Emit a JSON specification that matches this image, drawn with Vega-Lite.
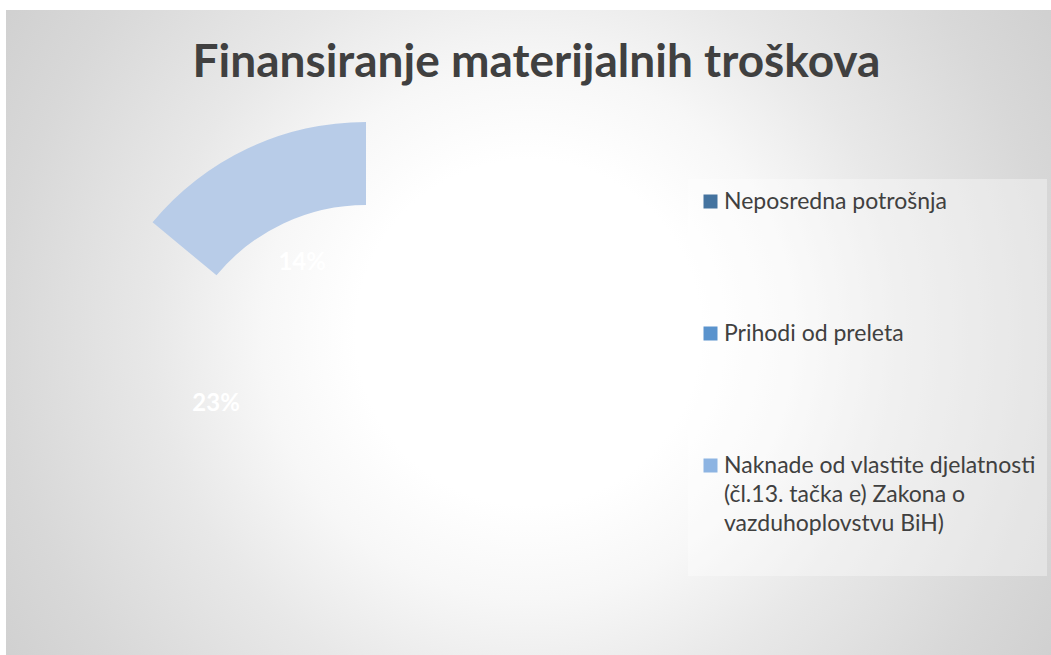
{
  "$schema": "https://vega.github.io/schema/vega-lite/v6.json",
  "width": 1045,
  "height": 645,
  "autosize": {"type": "none"},
  "padding": {"left": 6, "top": 10, "right": 0, "bottom": 0},
  "background": "#ffffff",
  "config": {"view": {"stroke": null}},
  "title": {
    "text": "Finansiranje materijalnih troškova",
    "font": "Lato",
    "fontSize": 46,
    "fontWeight": "bold",
    "color": "#404040",
    "anchor": "middle",
    "offset": 0,
    "baseline": "alphabetic",
    "dy": 113,
    "dx": 8
  },
  "data": {
    "values": [
      {"category": "Neposredna potrošnja", "share": 0.63, "order": 1},
      {"category": "Prihodi od preleta", "share": 0.23, "order": 2},
      {"category": "Naknade od vlastite djelatnosti (čl.13. tačka e) Zakona o vazduhoplovstvu BiH)", "share": 0.14, "order": 3}
    ]
  },
  "layer": [
    {
      "data": {"values": [{}]},
      "mark": {
        "type": "rect",
        "fill": {
          "gradient": "radial",
          "x1": 0.5, "y1": 0.5, "r1": 0,
          "x2": 0.5, "y2": 0.5, "r2": 0.75,
          "stops": [
            {"offset": 0, "color": "#ffffff"},
            {"offset": 0.22, "color": "#ffffff"},
            {"offset": 0.34, "color": "#f7f7f7"},
            {"offset": 0.48, "color": "#e8e8e8"},
            {"offset": 0.67, "color": "#d8d8d8"},
            {"offset": 0.94, "color": "#c6c6c6"},
            {"offset": 1, "color": "#c2c2c2"}
          ]
        }
      },
      "encoding": {}
    },
    {
      "mark": {
        "type": "arc",
        "x": {"expr": "width * 0.3445"},
        "y": {"expr": "height * 0.603"},
        "radius": 277,
        "radius2": 194,
        "tooltip": null
      },
      "encoding": {
        "theta": {"field": "share", "type": "quantitative", "stack": true, "scale": {"range": [0, 6.283185307]}},
        "order": {"field": "order", "type": "quantitative"},
        "fill": {
          "field": "category",
          "type": "nominal",
          "sort": null,
          "scale": {"range": ["rgba(255,255,255,0)", "rgba(255,255,255,0)", "#b8cce8"]},
          "legend": null
        }
      }
    },
    {
      "mark": {
        "type": "arc",
        "x": {"expr": "width * 0.3445"},
        "y": {"expr": "height * 0.603"},
        "radius": 277,
        "opacity": 0
      },
      "encoding": {
        "theta": {"field": "share", "type": "quantitative", "stack": true},
        "order": {"field": "order", "type": "quantitative"},
        "color": {
          "field": "category",
          "type": "nominal",
          "sort": null,
          "scale": {"range": ["#44739f", "#5a93cd", "#8db4e2"]},
          "legend": {
            "orient": "none",
            "legendX": 682,
            "legendY": 169,
            "title": null,
            "symbolType": "square",
            "symbolSize": 196,
            "symbolStrokeWidth": 0,
            "symbolOpacity": 1,
            "labelFont": "Lato",
            "labelFontSize": 23,
            "labelColor": "#404040",
            "labelOffset": 2,
            "labelLimit": 400,
            "rowPadding": 108,
            "padding": 11,
            "fillColor": "rgba(255,255,255,0.35)",
            "labelExpr": "indexof(datum.label, 'Naknade') == 0 ? ['Naknade od vlastite djelatnosti', '(čl.13. tačka e) Zakona o', 'vazduhoplovstvu BiH)', ''] : datum.label",
            "encode": {"labels": {"update": {"lineHeight": {"value": 29}}}}
          }
        }
      }
    },
    {
      "mark": {
        "type": "text",
        "x": {"expr": "width * 0.3445"},
        "y": {"expr": "height * 0.603"},
        "radius": 150,
        "font": "Lato",
        "fontSize": 24,
        "fontWeight": "bold",
        "color": "#ffffff"
      },
      "encoding": {
        "theta": {"field": "share", "type": "quantitative", "stack": true},
        "order": {"field": "order", "type": "quantitative"},
        "text": {"field": "share", "type": "quantitative", "format": ".0%"}
      }
    }
  ]
}
